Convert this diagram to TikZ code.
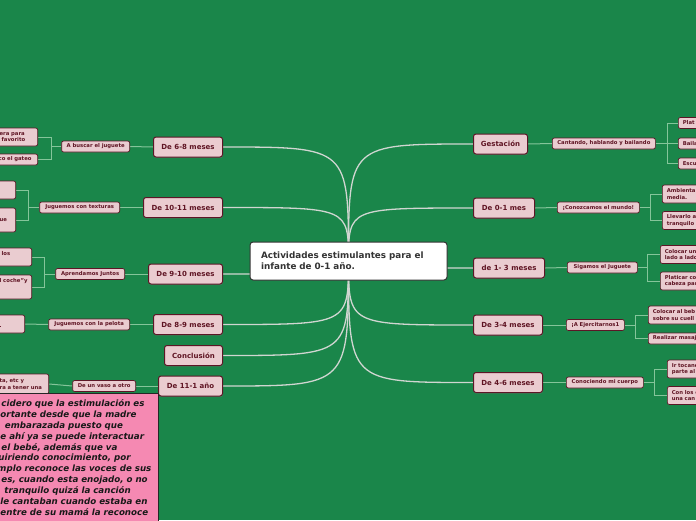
\documentclass[tikz,border=0pt]{standalone}
\usepackage{fontspec}
\setmainfont{DejaVu Sans}
\usetikzlibrary{shadows,calc}
\definecolor{bgc}{RGB}{26,134,74}
\definecolor{pinkfill}{RGB}{234,204,208}
\definecolor{maroon}{RGB}{92,22,38}
\definecolor{maroontext}{RGB}{95,20,35}
\definecolor{mainline}{RGB}{208,214,209}
\definecolor{subline}{RGB}{132,197,154}
\definecolor{notefill}{RGB}{245,137,178}
\pgfdeclarelayer{bg}
\pgfsetlayers{bg,main}
\begin{document}
\begin{tikzpicture}[x=1pt,y=-1pt,
  mainbox/.style={draw=maroon, line width=1pt, fill=pinkfill, rounded corners=2.5pt,
    text=maroontext, font=\fontsize{7}{8.4}\selectfont\bfseries, minimum height=20pt,
    inner xsep=0pt, inner ysep=0pt,
    drop shadow={shadow xshift=0.4pt, shadow yshift=-1.2pt, opacity=0.35}},
  subbox/.style={draw=maroon, line width=0.7pt, fill=pinkfill, rounded corners=2pt,
    text=maroontext, font=\fontsize{5.3}{6.4}\selectfont\bfseries, minimum height=11pt,
    inner xsep=0pt, inner ysep=0pt},
  leafL/.style={subbox, anchor=east, align=left, inner xsep=4pt},
  leafR/.style={subbox, anchor=west, align=left, inner xsep=4.5pt, text width=60pt},
  hub/.style={draw=black!80, fill=white, rounded corners=3pt, line width=1pt,
    minimum width=197pt, minimum height=38pt, text width=175pt, align=left,
    inner sep=0pt, text=black!80, font=\fontsize{8.8}{11}\selectfont\bfseries},
  notebox/.style={draw=black!85, line width=1pt, fill=notefill, text width=152pt,
    inner xsep=6pt, inner ysep=6pt, align=left, anchor=north west,
    text=black!90, font=\fontsize{8.7}{10.9}\selectfont\bfseries\itshape},
  curve/.style={draw=mainline, line width=1.3pt},
  branch/.style={draw=subline, line width=1pt}]
\path[use as bounding box] (0,0) rectangle (696,520);
\clip (0,0) rectangle (696,520);
\begin{pgfonlayer}{bg}
\fill[bgc] (0,0) rectangle (696,520);
\end{pgfonlayer}

% centre
\node[hub] (c) at (348.5,261) {Actividades estimulantes para el\\infante de 0-1 año.};

% left main nodes
\node[mainbox, anchor=east, minimum width=69pt] (m68) at (223,147) {De 6-8 meses};
\node[mainbox, anchor=east, minimum width=79pt] (m1011) at (223,207.5) {De 10-11 meses};
\node[mainbox, anchor=east, minimum width=74pt] (m910) at (223,274) {De 9-10 meses};
\node[mainbox, anchor=east, minimum width=69pt] (m89) at (223,324.5) {De 8-9 meses};
\node[mainbox, anchor=east, minimum width=58pt] (mcon) at (223,355.5) {Conclusión};
\node[mainbox, anchor=east, minimum width=64pt] (m111) at (223,386) {De 11-1 año};

% right main nodes
\node[mainbox, anchor=west, minimum width=54pt] (mges) at (473,144) {Gestación};
\node[mainbox, anchor=west, minimum width=61pt] (m01) at (473,208) {De 0-1 mes};
\node[mainbox, anchor=west, minimum width=71pt] (m13) at (473,268) {de 1- 3 meses};
\node[mainbox, anchor=west, minimum width=69pt] (m34) at (473,325) {De 3-4 meses};
\node[mainbox, anchor=west, minimum width=69pt] (m46) at (473,382.5) {De 4-6 meses};

% left sub nodes
\node[subbox, anchor=east, minimum width=68pt] (s68) at (130,146.5) {A buscar el juguete};
\node[subbox, anchor=east, minimum width=80pt] (s1011) at (120,207.5) {Juguemos con texturas};
\node[subbox, anchor=east, minimum width=69pt] (s910) at (125,274) {Aprendamos Juntos};
\node[subbox, anchor=east, minimum width=81pt] (s89) at (130,324.5) {Juguemos con la pelota};
\node[subbox, anchor=east, minimum width=63pt] (s111) at (136,386) {De un vaso a otro};

% right sub nodes
\node[subbox, anchor=west, minimum width=103pt] (sges) at (552,143.5) {Cantando, hablando y bailando};
\node[subbox, anchor=west, minimum width=82pt] (s01) at (557,207.5) {¡Conozcamos el mundo!};
\node[subbox, anchor=west, minimum width=70pt] (s13) at (567,267.5) {Sigamos el Juguete};
\node[subbox, anchor=west, minimum width=58pt] (s34) at (566,325) {¡A Ejercitarnos1};
\node[subbox, anchor=west, minimum width=77pt] (s46) at (566,382.5) {Conociendo mi cuerpo};

% left leaves (cut by the left edge)
\node[leafL, text width=34pt, minimum height=18pt] (c68a) at (38,137) {\mbox{era para}\\\hspace*{2pt}\mbox{favorito}};
\node[leafL, text width=35pt, minimum height=11pt] (c68b) at (38,159.5) {\mbox{co el gateo}};
\node[leafL, text width=12pt, minimum height=18pt] (c1011a) at (16,190) {};
\node[leafL, text width=12pt, minimum height=24pt] (c1011b) at (16,220) {ue};
\node[leafL, text width=27pt, minimum height=18pt] (c910a) at (32,257) {\hspace*{1pt}los\\\mbox{}};
\node[leafL, text width=28pt, minimum height=24pt] (c910b) at (32,287) {\mbox{l coche"y}\\\mbox{}\\\mbox{}};
\node[leafL, text width=21pt, minimum height=18pt] (c89) at (25,324) {\mbox{}\\.};
\node[leafL, text width=45pt, minimum height=20pt] (c111) at (49,384) {\mbox{ta, etc y}\\\mbox{ra a tener una}};

% right leaves (cut by the right edge)
\node[leafR, minimum height=11pt] (cga) at (678,123) {Plat};
\node[leafR, minimum height=11pt] (cgb) at (678,143.5) {Baila};
\node[leafR, minimum height=11pt] (cgc) at (678,163.5) {Escu};
\node[leafR, minimum height=18pt] (c01a) at (662,194) {Ambienta\\media.};
\node[leafR, minimum height=18pt] (c01b) at (662,220.5) {Llevarlo a\\tranquilo};
\node[leafR, minimum height=18pt] (c13a) at (660,254.5) {Colocar un\\lado a lado};
\node[leafR, minimum height=18pt] (c13b) at (660,281) {Platicar co\\cabeza par};
\node[leafR, minimum height=18pt] (c34a) at (648,315) {Colocar al beb\\sobre su cuell};
\node[leafR, minimum height=11pt] (c34b) at (648,338.5) {Realizar masaj};
\node[leafR, minimum height=18pt] (c46a) at (667,369) {Ir tocand\\parte al};
\node[leafR, minimum height=18pt] (c46b) at (667,395.5) {Con los e\\una can};

% note
\node[notebox] (note) at (-6,393) {%
\hspace*{1pt}\mbox{cidero que la estimulación es}\\
\mbox{ortante desde que la madre}\\
\hspace*{4.5pt}\mbox{embarazada puesto que}\\
\mbox{e ahí ya se puede interactuar}\\
\hspace*{1pt}\mbox{el bebé, además que va}\\
\hspace*{-2pt}\mbox{uiriendo conocimiento, por}\\
\hspace*{-3pt}\mbox{mplo reconoce las voces de sus}\\
\hspace*{1pt}\mbox{es, cuando esta enojado, o no}\\
\hspace*{4pt}\mbox{tranquilo quizá la canción}\\
\mbox{le cantaban cuando estaba en}\\
\mbox{entre de su mamá la reconoce}};

% connectors
\begin{pgfonlayer}{bg}
\foreach \n in {m68,m1011,m910,m89,mcon,m111}
  \draw[curve] (c.center) .. controls (c.center |- \n.east) .. (\n.east);
\foreach \n in {mges,m01,m13,m34,m46}
  \draw[curve] (c.center) .. controls (c.center |- \n.west) .. (\n.west);

\foreach \m/\s in {m68/s68,m1011/s1011,m910/s910,m89/s89,m111/s111}
  \draw[branch] (\m.west) -- (\s.east);
\foreach \m/\s in {mges/sges,m01/s01,m13/s13,m34/s34,m46/s46}
  \draw[branch] (\m.east) -- (\s.west);

\draw[branch] (s89.west) -- (c89.east);
\draw[branch] (s111.west) -- (c111.east);

\draw[branch] (s68.west) -- ++(-10,0) coordinate (b68);
\draw[branch] (c68a.east) -| (b68) |- (c68b.east);
\draw[branch] (s1011.west) -- ++(-11,0) coordinate (b1011);
\draw[branch] (c1011a.east) -| (b1011) |- (c1011b.east);
\draw[branch] (s910.west) -- ++(-11,0) coordinate (b910);
\draw[branch] (c910a.east) -| (b910) |- (c910b.east);

\draw[branch] (sges.east) -- ++(12,0) coordinate (bges);
\draw[branch] (cga.west) -| (bges) |- (cgc.west);
\draw[branch] (bges) -- (cgb.west);
\draw[branch] (s01.east) -- ++(11,0) coordinate (b01);
\draw[branch] (c01a.west) -| (b01) |- (c01b.west);
\draw[branch] (s13.east) -- ++(10,0) coordinate (b13);
\draw[branch] (c13a.west) -| (b13) |- (c13b.west);
\draw[branch] (s34.east) -- ++(11,0) coordinate (b34);
\draw[branch] (c34a.west) -| (b34) |- (c34b.west);
\draw[branch] (s46.east) -- ++(11,0) coordinate (b46);
\draw[branch] (c46a.west) -| (b46) |- (c46b.west);
\end{pgfonlayer}
\end{tikzpicture}
\end{document}
